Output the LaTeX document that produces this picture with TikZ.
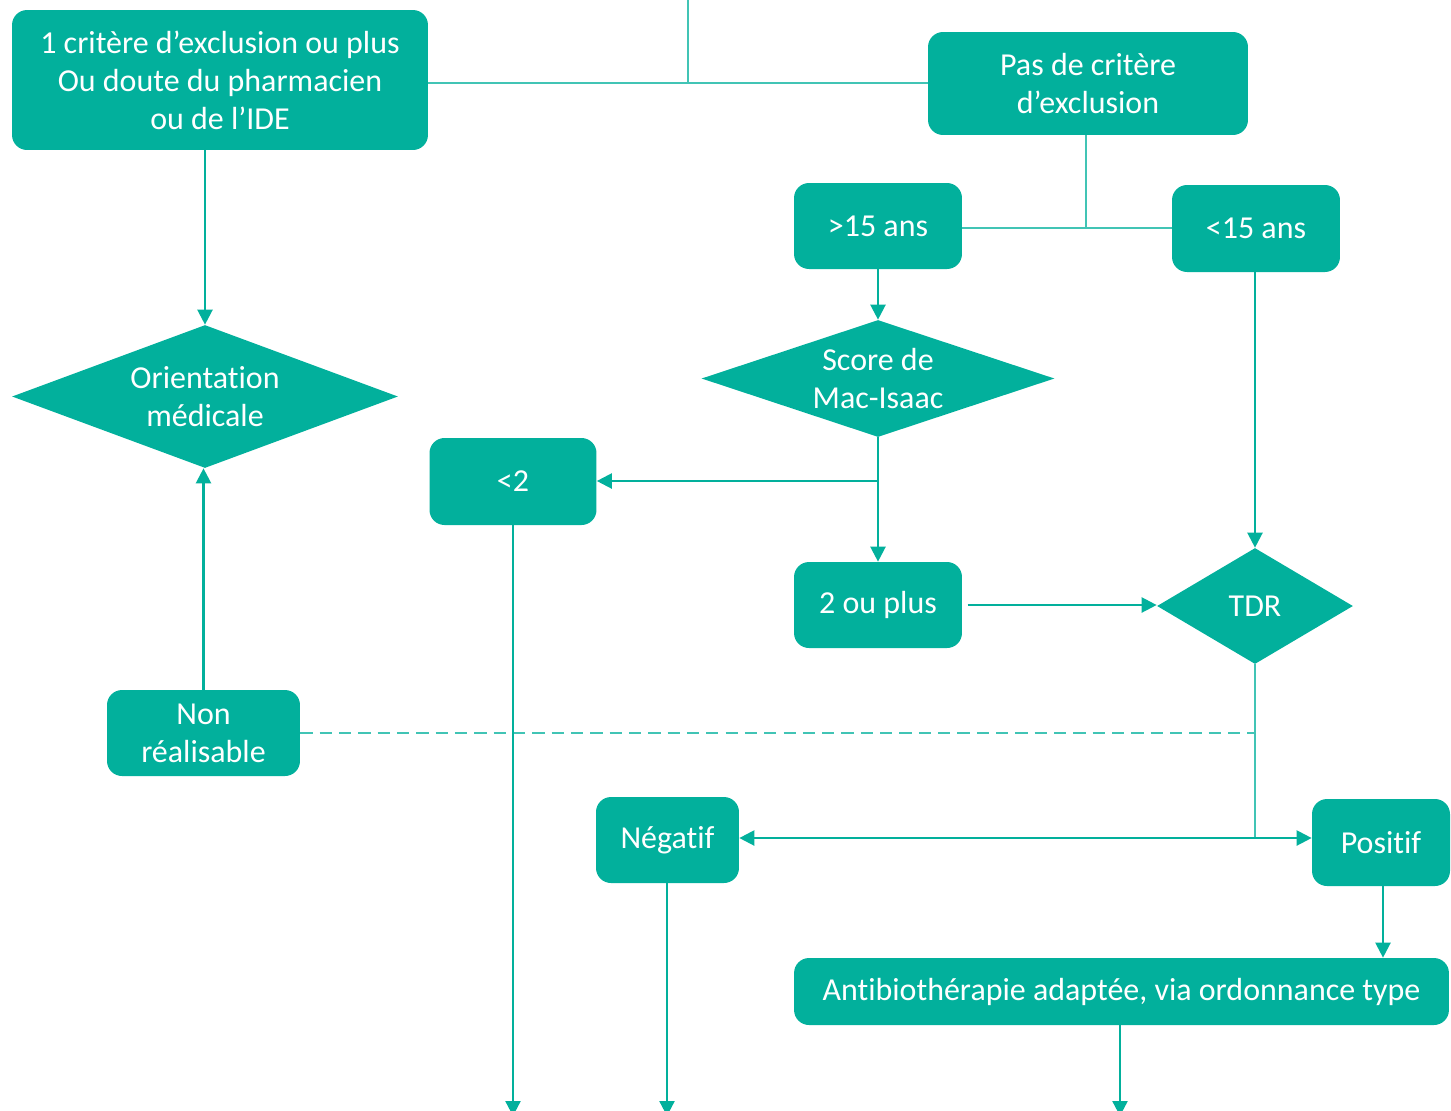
\documentclass[tikz,border=0pt]{standalone}
\usepackage{fontspec}
\setmainfont{Carlito}[Ligatures=NoCommon]
\usepackage{tikz}
\usetikzlibrary{arrows.meta,shapes.geometric,calc}
\usetikzlibrary{positioning}
\definecolor{vert}{RGB}{2,176,156}
\tikzset{
    %Define standard arrow tip
    >={Triangle[length=0.3cm,width=0.3cm]},
    % boxes and diamonds
    boite/.style={
           draw=none,
           fill=vert,
           text=white,
           rounded corners=0.3cm,
           align=center,
           inner sep=0pt,
           font=\fontsize{18.2}{21.6}\selectfont},
    losange/.style={
           diamond,
           fill=vert,
           inner sep=0pt},
    texte/.style={
           text=white,
           align=center,
           font=\fontsize{18.2}{21.6}\selectfont},
    % Define arrow style
    fleche/.style={
           ->,
           draw=vert,
           line width=1.3pt},
    trait/.style={
           draw=vert!75,
           line width=0.8pt}
}

\begin{document}
\begin{tikzpicture}[x=0.02cm,y=-0.02cm]
  \useasboundingbox (0,0) rectangle (1451,1110);
  % boxes
  \node (excl) at (220,80) [boite,minimum width=8.32cm,minimum height=2.8cm] {1 critère d’exclusion ou plus\\Ou doute du pharmacien\\ou de l’IDE};
  \node (pasexcl) at (1088,83.5) [boite,minimum width=6.4cm,minimum height=2.06cm] {Pas de critère\\d’exclusion};
  \node (plus15) at (878,226) [boite,minimum width=3.36cm,minimum height=1.72cm] {>15 ans};
  \node (moins15) at (1256,228.5) [boite,minimum width=3.36cm,minimum height=1.74cm] {<15 ans};
  \node (orient) at (205,396.5) [losange,minimum width=7.72cm,minimum height=2.86cm,label={[texte]center:Orientation\\médicale}] {};
  \node (score) at (878,378.5) [losange,minimum width=7.06cm,minimum height=2.34cm,label={[texte]center:Score de\\Mac-Isaac}] {};
  \node (inf2) at (513,481.5) [boite,minimum width=3.34cm,minimum height=1.74cm] {<2};
  \node (deuxplus) at (878,605) [boite,minimum width=3.36cm,minimum height=1.72cm] {2 ou plus};
  \node (tdr) at (1255,606) [losange,minimum width=3.92cm,minimum height=2.32cm,label={[texte]center:TDR}] {};
  \node (nonreal) at (203.5,733) [boite,minimum width=3.86cm,minimum height=1.72cm] {Non\\réalisable};
  \node (neg) at (667.5,840) [boite,minimum width=2.86cm,minimum height=1.72cm] {Négatif};
  \node (pos) at (1381,842.5) [boite,minimum width=2.76cm,minimum height=1.74cm] {Positif};
  \node (atb) at (1121.5,991.5) [boite,minimum width=13.1cm,minimum height=1.34cm] {Antibiothérapie adaptée, via ordonnance type};
  % free ends and junctions
  \coordinate (haut) at (688,-2);
  \coordinate (j1) at (688,83);
  \coordinate (j2) at (1086,228);
  \coordinate (c1) at (878,481);
  \coordinate (c2) at (1255,838);
  \coordinate (bas1) at (513,1116);
  \coordinate (bas2) at (667,1116);
  \coordinate (bas3) at (1120,1116);
  % thin lines
  \draw [trait] (haut) -- (j1);
  \draw [trait] (excl.east |- j1) -- (pasexcl.west |- j1);
  \draw [trait] (pasexcl.south -| j2) -- (j2);
  \draw [trait] (plus15.east |- j2) -- (moins15.west |- j2);
  \draw [trait] (tdr.south) -- (c2);
  \draw [trait,dashed,dash pattern=on 7pt off 4pt] (nonreal.east) -- (nonreal.east -| tdr.south);
  % arrows
  \draw [fleche] (orient.north |- excl.south) -- (orient.north);
  \draw [fleche] (plus15.south) -- (score.north);
  \draw [fleche] (score.south) -- (c1) -- (inf2.east |- c1);
  \draw [fleche] (c1) -- (deuxplus.north);
  \draw [fleche] ([xshift=3pt]deuxplus.east) -- (tdr.west |- deuxplus.east);
  \draw [fleche] (moins15.south -| tdr.north) -- (tdr.north);
  \draw [fleche] (c2) -- (neg.east |- c2);
  \draw [fleche] (c2) -- (pos.west |- c2);
  \draw [fleche] (nonreal.north) -- (nonreal.north |- orient.south);
  \draw [fleche] (pos.south -| 1383,0) -- (atb.north -| 1383,0);
  \draw [fleche] (inf2.south) -- (bas1);
  \draw [fleche] (neg.south -| bas2) -- (bas2);
  \draw [fleche] (atb.south -| bas3) -- (bas3);
\end{tikzpicture}
\end{document}
